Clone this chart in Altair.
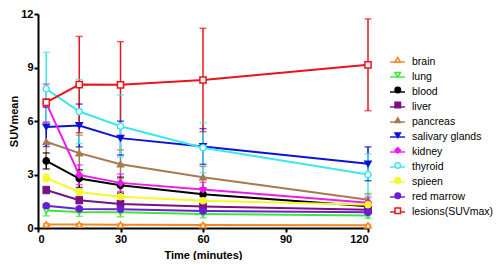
import altair as alt
import pandas as pd

times = [3, 15, 30, 60, 120]
series = ["brain", "lung", "blood", "liver", "pancreas", "salivary glands",
          "kidney", "thyroid", "spieen", "red marrow", "lesions(SUVmax)"]

means = {
    "brain":           [0.20, 0.19, 0.18, 0.17, 0.15],
    "lung":            [0.98, 0.90, 0.88, 0.78, 0.70],
    "blood":           [3.76, 2.77, 2.40, 1.89, 1.22],
    "liver":           [2.13, 1.56, 1.35, 1.20, 1.02],
    "pancreas":        [4.84, 4.20, 3.58, 2.85, 1.58],
    "salivary glands": [5.67, 5.75, 5.04, 4.57, 3.60],
    "kidney":          [7.00, 2.98, 2.53, 2.16, 1.42],
    "thyroid":         [7.80, 6.53, 5.71, 4.50, 3.00],
    "spieen":          [2.80, 2.02, 1.75, 1.53, 1.30],
    "red marrow":      [1.25, 1.07, 1.05, 0.95, 0.88],
    "lesions(SUVmax)": [7.04, 8.04, 8.03, 8.30, 9.15],
}
sds = {
    "brain":           [0.05, 0.05, 0.05, 0.05, 0.05],
    "lung":            [0.30, 0.25, 0.25, 0.20, 0.15],
    "blood":           [0.45, 0.50, 0.45, 0.35, 0.20],
    "liver":           [0.20, 0.20, 0.20, 0.18, 0.15],
    "pancreas":        [1.10, 1.00, 0.80, 0.60, 0.35],
    "salivary glands": [1.10, 1.20, 0.95, 1.00, 0.95],
    "kidney":          [1.07, 0.55, 0.50, 0.40, 0.30],
    "thyroid":         [2.05, 1.80, 1.75, 1.40, 1.15],
    "spieen":          [0.20, 0.15, 0.15, 0.12, 0.10],
    "red marrow":      [0.10, 0.10, 0.10, 0.10, 0.10],
    "lesions(SUVmax)": [0.20, 2.70, 2.42, 2.90, 2.57],
}

colors = ["#F5871F", "#3CE63C", "#000000", "#7E0F82", "#A57A50", "#0A14D2",
          "#EE1AEE", "#3EE8E8", "#F7F72A", "#6A1ED8", "#E8141E"]
shapes = ["triangle-up", "triangle-down", "circle", "square", "triangle-up",
          "triangle-down", "diamond", "circle", "circle", "circle", "square"]
fills = ["white", "white", "#000000", "#7E0F82", "#A57A50", "#0A14D2",
         "#EE1AEE", "white", "#F7F72A", "#6A1ED8", "white"]

# marker key (a distinct domain so its legend is not merged with the line legend)
organs = [s + " " for s in series]

rows = []
for s, o in zip(series, organs):
    for t, m, e in zip(times, means[s], sds[s]):
        rows.append({"series": s, "organ": o, "time": t, "mean": m,
                     "lo": m - e, "hi": m + e})
df = pd.DataFrame(rows)

font = "Liberation Sans"
xscale = alt.Scale(domain=[0, 120], nice=False)
yscale = alt.Scale(domain=[0, 12], nice=False)
cscale = alt.Scale(domain=series, range=colors)

x = alt.X("time:Q", scale=xscale,
          axis=alt.Axis(values=[0, 30, 60, 90, 120], title="Time (minutes)"))
y = alt.Y("mean:Q", scale=yscale,
          axis=alt.Axis(values=[0, 3, 6, 9, 12], title="SUVmean"))

LX, LY = 351, 39.5
color_legend = alt.Legend(title=None, orient="none", legendX=LX, legendY=LY,
                          symbolType="stroke", symbolSize=225,
                          symbolStrokeWidth=2, rowPadding=1.0,
                          labelFontSize=10.5, labelFont=font, labelColor="black",
                          labelOffset=6)
col = alt.Color("series:N", scale=cscale, legend=color_legend)

base = alt.Chart(df)

rules = base.mark_rule(strokeWidth=1.5).encode(
    x="time:Q", y=alt.Y("lo:Q", scale=yscale), y2="hi:Q", color=col)
caps_hi = base.mark_tick(orient="horizontal", size=7, thickness=1.5).encode(
    x="time:Q", y=alt.Y("hi:Q", scale=yscale), color=col)
caps_lo = base.mark_tick(orient="horizontal", size=7, thickness=1.5).encode(
    x="time:Q", y=alt.Y("lo:Q", scale=yscale), color=col)

lines = base.mark_line(strokeWidth=2).encode(x=x, y=y, color=col)

pt_legend = alt.Legend(title=None, orient="none", legendX=LX + 3.5, legendY=LY + 1,
                       symbolSize=30, symbolStrokeWidth=1.5,
                       rowPadding=3.1, labelFontSize=10.5, labelExpr="''",
                       labelFont=font, labelOffset=0)
points = base.mark_point(size=38, strokeWidth=1.5, opacity=1).encode(
    x="time:Q", y="mean:Q",
    stroke=alt.Stroke("organ:N", scale=alt.Scale(domain=organs, range=colors),
                      legend=pt_legend),
    shape=alt.Shape("organ:N", scale=alt.Scale(domain=organs, range=shapes),
                    legend=pt_legend),
    fill=alt.Fill("organ:N", scale=alt.Scale(domain=organs, range=fills),
                  legend=pt_legend))

chart = alt.layer(rules, caps_hi, caps_lo, lines, points).properties(
    width=330, height=214,
    padding={"left": 0, "top": 0, "right": 0, "bottom": 0}).configure_axis(
    domainColor="black", domainWidth=2, tickColor="black", tickWidth=2, tickSize=4,
    labelFont=font, labelFontWeight="bold", labelFontSize=11, labelColor="black",
    titleFont=font, titleFontWeight="bold", titleFontSize=11, titleColor="black",
    grid=False, labelPadding=1).configure_axisY(titlePadding=1).configure_axisX(
    titlePadding=5).configure_view(stroke=None)

chart.save("out.html", embed_options={"renderer": "svg", "actions": False})
